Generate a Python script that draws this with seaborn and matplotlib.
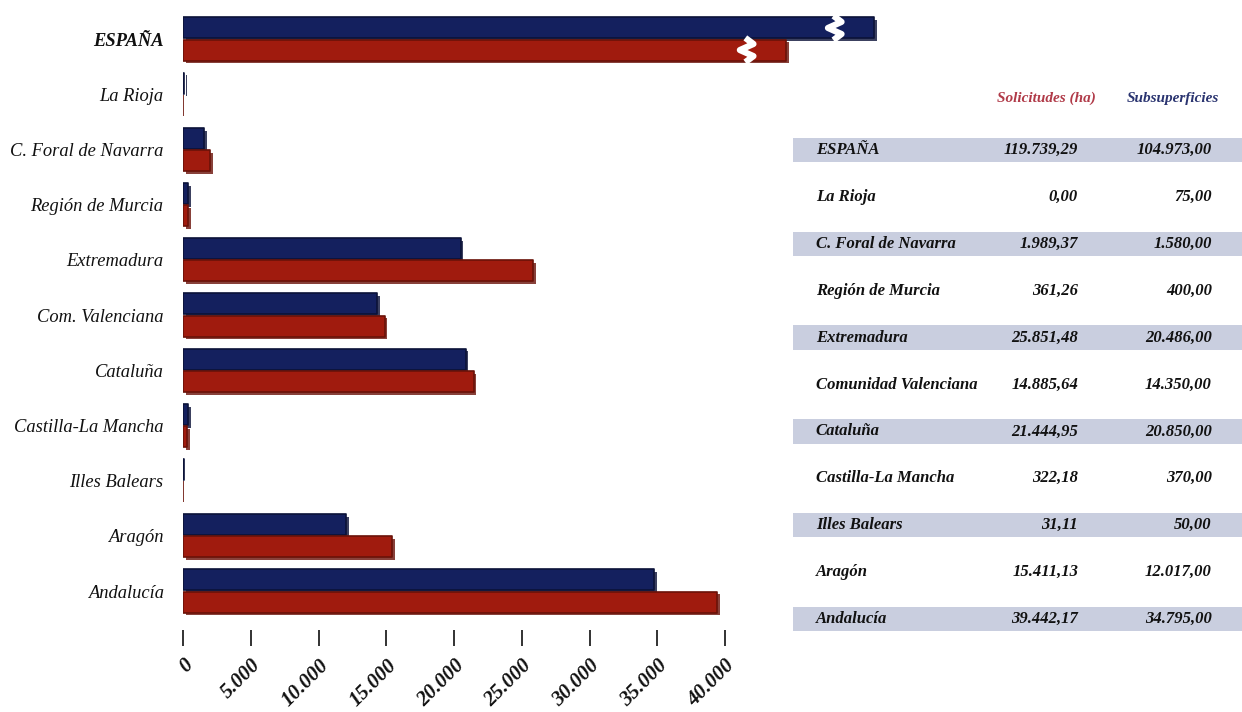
import numpy as np
import pandas as pd
import seaborn as sns
import matplotlib.pyplot as plt
import matplotlib.ticker as ticker
import matplotlib.patheffects as pe

# data (ha)
regions = ["ESPAÑA", "La Rioja", "C. Foral de Navarra", "Región de Murcia", "Extremadura",
           "Com. Valenciana", "Cataluña", "Castilla-La Mancha", "Illes Balears", "Aragón", "Andalucía"]
table_names = ["ESPAÑA", "La Rioja", "C. Foral de Navarra", "Región de Murcia", "Extremadura",
               "Comunidad Valenciana", "Cataluña", "Castilla-La Mancha", "Illes Balears", "Aragón", "Andalucía"]
solicitudes = [119739.29, 0.00, 1989.37, 361.26, 25851.48, 14885.64, 21444.95, 322.18, 31.11, 15411.13, 39442.17]
subsuperficies = [104973.00, 75.00, 1580.00, 400.00, 20486.00, 14350.00, 20850.00, 370.00, 50.00, 12017.00, 34795.00]
# ESPAÑA bars are shown cut (axis break), lengths as drawn in the picture
espana_shown_sub = 51000
espana_shown_sol = 44500
x_ticks = [0, 5000, 10000, 15000, 20000, 25000, 30000, 35000, 40000]

blue = "#14205e"
red = "#a01b0e"
blue_dark = "#0b1238"
red_dark = "#6a1208"

def es_num(v, dec=2):
    s = f"{v:,.{dec}f}"
    return s.replace(",", "X").replace(".", ",").replace("X", ".")

sub_plot = [espana_shown_sub] + subsuperficies[1:]
sol_plot = [espana_shown_sol] + solicitudes[1:]
df = pd.DataFrame({
    "region": regions * 2,
    "serie": ["Subsuperficies"] * len(regions) + ["Solicitudes (ha)"] * len(regions),
    "value": sub_plot + sol_plot,
})

sns.set_theme(style="white")
plt.rcParams['font.family'] = ['Liberation Serif', 'DejaVu Serif']

fig = plt.figure(figsize=(12.42, 7.12), dpi=100)
ax = fig.add_axes([183/1242, 1-618.6/712, (880-183)/1242, (618.6-11.4)/712])
sns.barplot(data=df, y="region", x="value", hue="serie", order=regions,
            hue_order=["Subsuperficies", "Solicitudes (ha)"], palette=[blue, red],
            orient="h", width=0.8, gap=0.05, saturation=1, legend=False, ax=ax)

# fake 3D look: dark edge + small shadow
for p in ax.patches:
    fc = p.get_facecolor()
    dark = blue_dark if fc[2] > fc[0] else red_dark
    p.set_edgecolor(dark)
    p.set_linewidth(1.2)
    p.set_joinstyle("round")
    p.set_path_effects([pe.SimplePatchShadow(offset=(2, -2), shadow_rgbFace=dark, alpha=0.8),
                        pe.Normal()])

# break marks on ESPAÑA bars
for p in ax.patches:
    y0, h = p.get_y(), p.get_height()
    if y0 + h / 2 < 0.5 and p.get_width() > 0:
        xb = p.get_width() - 3000
        ys = np.linspace(y0 - 0.03, y0 + h + 0.03, 5)
        xs = xb + np.array([0, 600, -400, 600, 0])
        ax.plot(xs, ys, color="white", lw=4.5, solid_capstyle="butt", zorder=5)

ax.set_xlim(0, 40000 * (880 - 183) / 542)
ax.set_ylim(10.5, -0.5)
ax.set_xticks(x_ticks)
ax.xaxis.set_major_formatter(ticker.FuncFormatter(lambda v, p: es_num(v, 0)))
ax.set_xlabel("")
ax.set_ylabel("")
for s in ax.spines.values():
    s.set_visible(False)
ax.spines["bottom"].set_position(("outward", 8))
ax.tick_params(axis="x", bottom=True, length=11.5, width=1.3, color="#222222", pad=7)
ax.tick_params(axis="y", length=0, pad=14)
for lab in ax.get_xticklabels():
    lab.set_rotation(45)
    lab.set_ha("right")
    lab.set_rotation_mode("anchor")
    lab.set_fontsize(15)
    lab.set_fontstyle("italic")
    lab.set_fontweight("bold")
    lab.set_color("#111111")
for lab in ax.get_yticklabels():
    lab.set_fontsize(13.3)
    lab.set_fontstyle("italic")
    lab.set_color("#111111")
    if lab.get_text() == "ESPAÑA":
        lab.set_fontweight("bold")

# table on the right
ax2 = fig.add_axes([793/1242, 1-642.5/712, 449/1242, (642.5-79.6)/712])
ax2.set_xlim(0, 1)
ax2.set_ylim(11.5, -0.5)
ax2.axis("off")
ax2.text(0.565, -0.1, "Solicitudes (ha)", color="#b03a48", fontsize=11, fontstyle="italic",
         fontweight="bold", ha="center", va="center")
ax2.text(0.845, -0.1, "Subsuperficies", color="#2a3470", fontsize=11, fontstyle="italic",
         fontweight="bold", ha="center", va="center")
for i, name in enumerate(table_names):
    row = i + 1
    if i % 2 == 0:
        ax2.axhspan(row - 0.26, row + 0.26, color="#c9cedf", lw=0, zorder=0)
    kw = dict(fontsize=12, fontstyle="italic", fontweight="bold", color="#111111", va="center")
    ax2.text(0.051, row, name, ha="left", **kw)
    ax2.text(0.635, row, es_num(solicitudes[i]), ha="right", **kw)
    ax2.text(0.933, row, es_num(subsuperficies[i]), ha="right", **kw)

fig.savefig("out.png", dpi=100, facecolor="white")
